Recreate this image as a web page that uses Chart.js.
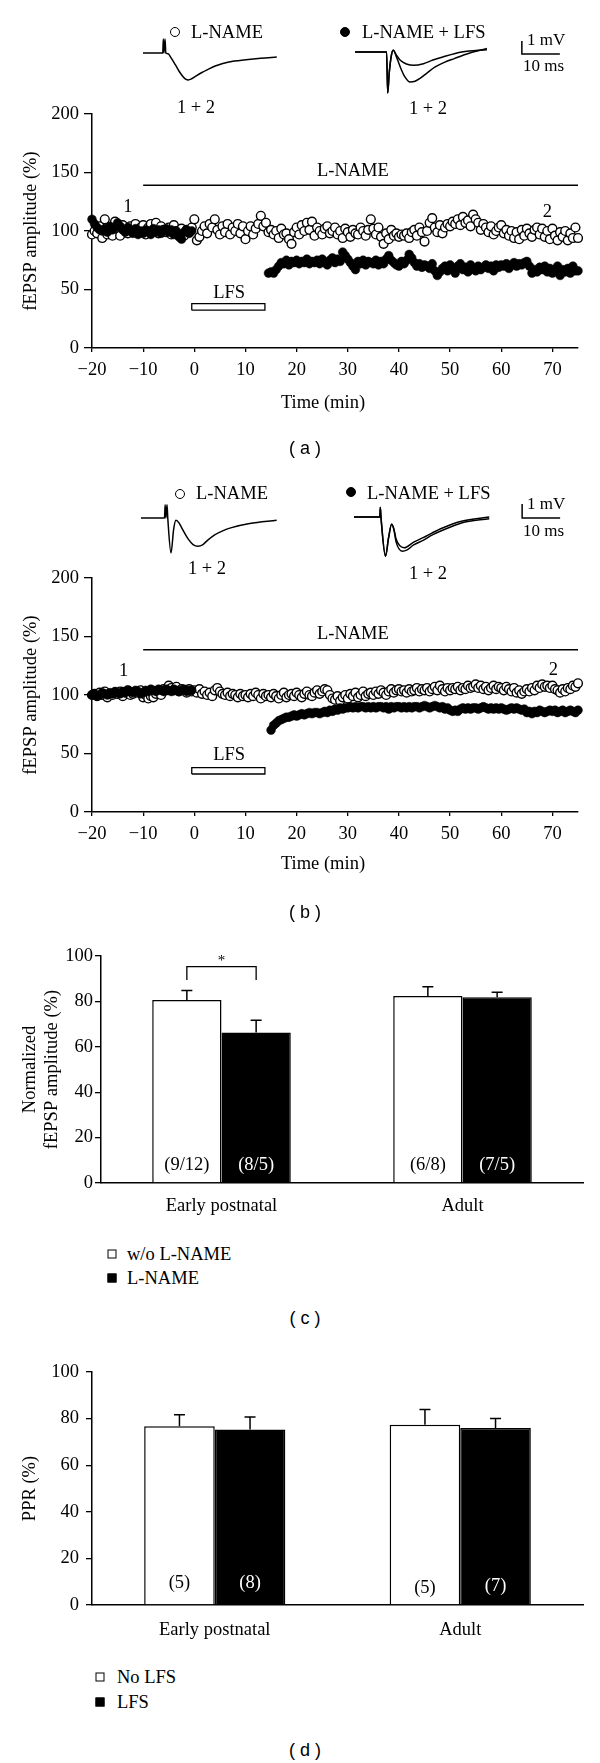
<!DOCTYPE html>
<html>
<head>
<meta charset="utf-8">
<script src="https://cdn.jsdelivr.net/npm/chart.js@4.4.1/dist/chart.umd.min.js"></script>
<style>
  html, body { margin: 0; padding: 0; background: #fff; }
  #fig { position: relative; width: 600px; height: 1763px; overflow: hidden; background: #fff;
         font-family: 'Liberation Serif', 'Times New Roman', serif; color: #000; }
  #fig canvas { position: absolute; }
  .t { position: absolute; white-space: nowrap; font-size: 18.5px; line-height: 1; transform: translateY(-50%); }
  .t.c { transform: translate(-50%, -50%); }
  .t.small { font-size: 17px; }
  .t.panel { font-family: 'Liberation Sans', Arial, sans-serif; font-size: 18px; }
  .mark { position: absolute; box-sizing: border-box; transform: translate(-50%, -50%); border: 1.3px solid #000; }
  .mark.round { border-radius: 50%; width: 10px; height: 10px; }
  .mark.square { width: 9px; height: 9px; }
</style>
</head>
<body>
<div id="fig"></div>
<script>
// Four-panel figure: two fEPSP time courses with inset traces (a, b)
// and two grouped bar charts with error bars (c, d).

// ---- Data ----

const SAMPLE_MIN = 0.5; // one sweep every 30 s
const timeTicks = [-20, -10, 0, 10, 20, 30, 40, 50, 60, 70];
const ampTicks = [0, 50, 100, 150, 200];

// (a) L-NAME alone (open) and L-NAME + LFS (filled), % of baseline
const aOpenStart = -20;
const aOpen = [
  97, 100, 98, 104, 94, 110, 97, 101, 96, 108,
  102, 96, 105, 100, 98, 104, 101, 106, 99, 103,
  105, 97, 103, 106, 100, 107, 98, 104, 101, 99,
  103, 97, 105, 100, 98, 102, 96, 101, 99, 103,
  110, 92, 95, 100, 104, 98, 106, 103, 110, 101,
  97, 104, 99, 106, 97, 103, 100, 106, 98, 104,
  93, 100, 104, 97, 102, 106, 113, 104, 107, 99,
  101, 97, 100, 94, 102, 97, 98, 93, 89, 99,
  103, 97, 105, 100, 107, 101, 108, 96, 103, 100,
  97, 102, 104, 98, 100, 103, 97, 100, 94, 102,
  99, 95, 101, 98, 97, 103, 100, 96, 101, 110,
  102, 97, 103, 95, 89, 98, 93, 101, 96, 98,
  95, 97, 96, 98, 94, 99, 101, 96, 103, 99,
  91, 100, 107, 111, 103, 99, 105, 98, 103, 106,
  104, 108, 106, 110, 105, 112, 107, 109, 104, 114,
  110, 107, 101, 106, 103, 99, 104, 97, 100, 103,
  105, 98, 101, 96, 100, 94, 99, 93, 101, 96,
  102, 98, 95, 101, 103, 97, 102, 95, 100, 93,
  102, 96, 92, 99, 95, 100, 92, 98, 94, 103,
  94,
];
const aFilledPreStart = -20;
const aFilledPre = [
  110, 106, 103, 101, 100, 102, 99, 104, 101, 103,
  107, 104, 101, 99, 103, 100, 98, 102, 97, 100,
  98, 101, 100, 97, 102, 99, 101, 98, 100, 102,
  99, 101, 97, 100, 95, 93, 99, 101, 98, 100,
];
const aFilledPostStart = 14.5;
const aFilledPost = [
  64, 65, 64, 67, 70, 73, 72, 75, 71, 74,
  73, 75, 72, 74, 73, 76, 72, 74, 73, 75,
  72, 76, 73, 71, 75, 77, 73, 76, 74, 82,
  79, 76, 73, 70, 67, 74, 72, 75, 71, 74,
  73, 72, 75, 71, 74, 72, 76, 79, 75, 73,
  71, 70, 74, 72, 75, 80, 77, 73, 70, 72,
  69, 71, 70, 68, 72, 66, 62, 65, 68, 70,
  66, 71, 68, 64, 70, 72, 67, 69, 65, 71,
  68, 66, 70, 67, 69, 71, 68, 70, 66, 71,
  69, 71, 70, 72, 68, 71, 73, 70, 72, 71,
  73, 74, 70, 64, 67, 65, 69, 67, 70, 65,
  68, 64, 66, 70, 62, 67, 65, 68, 64, 70,
  66, 66,
];

// (b) same protocol, second condition
const bOpenStart = -20;
const bOpen = [
  100, 101, 99, 102, 100, 103, 98, 101, 100, 102,
  101, 103, 99, 102, 104, 100, 101, 103, 102, 104,
  98, 100, 97, 99, 98, 101, 103, 100, 105, 104,
  108, 106, 104, 107, 103, 105, 104, 102, 105, 103,
  104, 102, 105, 101, 103, 100, 102, 99, 104, 106,
  103, 101, 100, 102, 99, 101, 100, 98, 101, 99,
  100, 98, 101, 99, 102, 100, 97, 101, 99, 100,
  98, 101, 99, 97, 100, 102, 98, 100, 101, 99,
  102, 100, 98, 101, 103, 100, 99, 102, 104, 101,
  103, 105, 104, 100, 97, 96, 99, 95, 98, 100,
  97, 101, 99, 102, 98, 100, 103, 99, 101, 102,
  100, 103, 101, 104, 102, 100, 103, 105, 102, 104,
  105, 103, 104, 102, 105, 103, 104, 106, 103, 105,
  104, 106, 103, 105, 107, 104, 108, 105, 103, 106,
  104, 106, 105, 107, 104, 106, 105, 108, 106, 107,
  109, 106, 108, 105, 107, 104, 106, 108, 105, 107,
  106, 104, 107, 105, 103, 106, 102, 104, 101, 103,
  105, 103, 106, 104, 108, 106, 109, 107, 108, 106,
  108, 105, 104, 102, 105, 103, 106, 105, 108, 107,
  110,
];
const bFilledPreStart = -20;
const bFilledPre = [
  100, 101, 99, 100, 102, 101, 100, 102, 101, 103,
  102, 101, 103, 102, 104, 103, 102, 104, 103, 101,
  102, 104, 103, 105, 104, 103, 105, 104, 103, 105,
  104, 103, 105, 104, 103, 104, 105, 103, 104, 104,
];
const bFilledPostStart = 15;
const bFilledPost = [
  70, 74, 76, 78, 79, 80, 81, 81, 82, 83,
  82, 83, 84, 83, 84, 85, 84, 85, 85, 84,
  85, 86, 85, 87, 86, 88, 87, 89, 88, 89,
  89, 90, 89, 90, 89, 90, 90, 89, 90, 89,
  90, 89, 90, 90, 89, 90, 88, 90, 89, 90,
  90, 89, 90, 89, 90, 89, 90, 90, 89, 90,
  91, 90, 89, 90, 91, 90, 89, 90, 88, 89,
  87, 86, 87, 86, 88, 89, 88, 89, 88, 89,
  89, 88, 89, 90, 89, 88, 89, 88, 89, 88,
  89, 88, 87, 88, 89, 88, 89, 88, 87, 88,
  85, 86, 84, 86, 85, 87, 86, 85, 86, 87,
  86, 87, 85, 86, 87, 85, 86, 87, 86, 85,
  87,
];

// drug application bar and LFS period (min, %)
const aDrug = { from: -10, to: 75, level: 139 };
const aLfs = { from: -0.5, to: 13.8, low: 32.3, high: 38 };
const bDrug = { from: -10, to: 75, level: 138.7 };
const bLfs = { from: -0.5, to: 13.8, low: 32.5, high: 38 };

// inset sweeps: [ms, mV]
const aTraceLeft = [
  [0, 0], [5.2, 0], [5.35, 1.08], [5.5, 0], [5.8, 1.08], [6.0, 0], [6.6, -0.05], [7.4, -0.38],
  [8.5, -0.9], [9.5, -1.4], [10.5, -1.8], [11.2, -2.0], [11.9, -2.07], [12.8, -1.98], [14, -1.75],
  [15.5, -1.5], [17, -1.28], [19, -1.0], [21, -0.8], [24, -0.62], [27.1, -0.51], [31, -0.4], [35.2, -0.31],
];
const aTraceRight1 = [
  [0, 0], [8.3, 0], [8.6, -3.15], [9.0, -1.6], [9.6, -0.2], [10.1, 0.13], [10.8, -0.3], [11.9, -1.15],
  [13, -1.85], [14.5, -2.31], [15.8, -2.25], [17, -2.05], [19, -1.6], [21.1, -1.15], [23.5, -0.8],
  [26.1, -0.51], [30, -0.1], [34.7, 0.26],
];
const aTraceRight2 = [
  [0, 0], [8.3, 0], [8.6, -3.15], [9.0, -1.6], [9.6, -0.2], [10.1, 0.13], [10.8, -0.2], [11.9, -0.64],
  [13.5, -0.92], [15.5, -1.03], [18, -0.9], [20.5, -0.62], [23.1, -0.38], [28.1, 0], [34.7, 0.18],
];
const bTraceLeft = [
  [0, 0], [6.2, 0], [6.35, 0.95], [6.55, 0], [6.85, 0.95], [7.05, 0], [7.9, -2.5], [8.6, -0.8],
  [9.2, -0.17], [10, -0.35], [10.9, -0.8], [12.4, -1.5], [13.7, -1.9], [15, -2.02], [16.3, -1.9],
  [17.5, -1.6], [19.5, -1.19], [21.5, -0.92], [23.6, -0.71], [28.6, -0.4], [35.7, -0.17],
];
const bTraceRight1 = [
  [0, 0], [6.8, 0], [6.93, 0.67], [7.1, 0], [8.3, -2.81], [9.1, -1.5], [9.9, -0.52], [10.5, -0.9],
  [11.1, -1.8], [12.7, -2.45], [14, -2.35], [15.7, -2.0], [18.2, -1.67], [20.5, -1.3], [23.3, -0.95],
  [28.3, -0.43], [35.6, -0.12],
];
const bTraceRight2 = [
  [0, 0], [6.8, 0], [6.93, 0.67], [7.1, 0], [8.3, -2.81], [9.1, -1.5], [9.9, -0.52], [10.5, -0.85],
  [11.1, -1.6], [13.2, -2.2], [15.7, -1.8], [18.2, -1.48], [20.5, -1.15], [23.3, -0.79], [28.3, -0.31],
  [35.6, 0],
];
const scaleBarMs = 10;
const scaleBarMv = 1;

// (c) normalized fEPSP amplitude, mean and SEM
const ageGroups = ['Early postnatal', 'Adult'];
const cWithout = [80.6, 82.4];
const cWithoutErr = [4.2, 4.1];
const cLName = [66.3, 81.8];
const cLNameErr = [5.4, 2.2];
const cWithoutN = ['(9/12)', '(6/8)'];
const cLNameN = ['(8/5)', '(7/5)'];

// (d) paired-pulse ratio
const dNoLfs = [76.7, 77.4];
const dNoLfsErr = [4.9, 6.5];
const dLfs = [75.3, 76.0];
const dLfsErr = [5.4, 4.0];
const dNoLfsN = ['(5)', '(5)'];
const dLfsN = ['(8)', '(7)'];

const barTicks = [0, 20, 40, 60, 80, 100];

// ---- Helpers ----

const SERIF = "'Liberation Serif', 'Times New Roman', serif";
const FONT = 18.5;
const PANEL_X = 305;
const fig = document.getElementById('fig');

function addCanvas(left, top, w, h) {
  const c = document.createElement('canvas');
  c.width = w;
  c.height = h;
  c.style.left = left + 'px';
  c.style.top = top + 'px';
  c.style.width = w + 'px';
  c.style.height = h + 'px';
  fig.appendChild(c);
  return c;
}

function addText(text, x, y, cls = '') {
  const d = document.createElement('div');
  d.className = 't ' + cls;
  d.textContent = text;
  d.style.left = x + 'px';
  d.style.top = y + 'px';
  fig.appendChild(d);
}

function addMark(kind, fill, x, y) {
  const d = document.createElement('div');
  d.className = 'mark ' + kind;
  d.style.left = x + 'px';
  d.style.top = y + 'px';
  d.style.background = fill;
  fig.appendChild(d);
}

function series(start, values) {
  return values.map((v, i) => ({ x: start + i * SAMPLE_MIN, y: v }));
}

function fmtMinus(v) {
  return v < 0 ? '\u2212' + Math.abs(v) : String(v);
}

function notesPlugin(items) {
  return {
    id: 'notes',
    afterDatasetsDraw(chart) {
      const { ctx, scales: { x, y } } = chart;
      ctx.save();
      ctx.font = `${FONT}px ${SERIF}`;
      ctx.fillStyle = '#000';
      ctx.textAlign = 'center';
      ctx.textBaseline = 'middle';
      for (const n of items) {
        ctx.fillText(n.text, x.getPixelForValue(n.x), y.getPixelForValue(n.y));
      }
      ctx.restore();
    },
  };
}

const baseOptions = {
  responsive: false,
  animation: false,
  devicePixelRatio: 1,
  events: [],
  plugins: { legend: { display: false }, tooltip: { enabled: false } },
};

// ---- Time course panels ----

function timeCourse(top, open, filledPre, filledPost, drug, lfs, notes) {
  const canvas = addCanvas(0, top, 600, 420);
  const pointStyle = { showLine: false, pointRadius: 4.4, clip: false };
  new Chart(canvas, {
    type: 'scatter',
    data: {
      datasets: [
        { ...pointStyle, data: filledPre, pointBackgroundColor: '#000', pointBorderColor: '#000', pointBorderWidth: 0.5 },
        { ...pointStyle, data: filledPost, pointBackgroundColor: '#000', pointBorderColor: '#000', pointBorderWidth: 0.5 },
        { ...pointStyle, data: open, pointBackgroundColor: '#fff', pointBorderColor: '#000', pointBorderWidth: 1.4 },
        {
          data: [{ x: drug.from, y: drug.level }, { x: drug.to, y: drug.level }],
          showLine: true, borderColor: '#000', borderWidth: 1.5, pointRadius: 0, clip: false,
        },
        {
          data: [
            { x: lfs.from, y: lfs.low }, { x: lfs.to, y: lfs.low }, { x: lfs.to, y: lfs.high },
            { x: lfs.from, y: lfs.high }, { x: lfs.from, y: lfs.low },
          ],
          showLine: true, borderColor: '#000', borderWidth: 1.3, pointRadius: 0, fill: false,
        },
      ],
    },
    options: {
      ...baseOptions,
      layout: { padding: { top: 114, right: 22, left: 0, bottom: 0 } },
      scales: {
        x: {
          type: 'linear', min: -20, max: 75,
          afterBuildTicks: (s) => { s.ticks = timeTicks.map((v) => ({ value: v })); },
          afterFit: (s) => { s.height = 72; },
          grid: { drawOnChartArea: false, drawTicks: true, tickLength: 4, color: '#000', lineWidth: 1.3 },
          border: { display: true, color: '#000', width: 1.5 },
          ticks: { color: '#000', font: { family: SERIF, size: FONT }, padding: 6.9, maxRotation: 0, callback: fmtMinus },
        },
        y: {
          type: 'linear', min: 0, max: 200,
          afterBuildTicks: (s) => { s.ticks = ampTicks.map((v) => ({ value: v })); },
          afterFit: (s) => { s.width = 92; },
          grid: { drawOnChartArea: false, drawTicks: true, tickLength: 8, color: '#000', lineWidth: 1.3 },
          border: { display: true, color: '#000', width: 1.5 },
          ticks: { color: '#000', font: { family: SERIF, size: FONT }, padding: 5 },
          title: {
            display: true, text: 'fEPSP amplitude (%)', color: '#000',
            font: { family: SERIF, size: FONT }, padding: { top: 19.9, bottom: 0 },
          },
        },
      },
    },
    plugins: [notesPlugin(notes)],
  });
}

function shift(trace, dt, dv) {
  return trace.map(([t, v]) => ({ x: t + dt, y: v + dv }));
}

function inset(left, top, w, h, xMin, pxPerMs, yMax, pxPerMv, traces) {
  const canvas = addCanvas(left, top, w, h);
  new Chart(canvas, {
    type: 'scatter',
    data: {
      datasets: traces.map((pts) => ({
        data: pts, showLine: true, borderColor: '#000', borderWidth: 1.5,
        pointRadius: 0, cubicInterpolationMode: 'monotone', clip: false,
      })),
    },
    options: {
      ...baseOptions,
      layout: { padding: 0 },
      scales: {
        x: { type: 'linear', display: false, min: xMin, max: xMin + w / pxPerMs },
        y: { type: 'linear', display: false, min: yMax - h / pxPerMv, max: yMax },
      },
    },
  });
}

function scaleBar(x0, v0) {
  return [
    { x: x0, y: v0 + scaleBarMv }, { x: x0, y: v0 }, { x: x0 + scaleBarMs, y: v0 },
  ];
}

// (a)
timeCourse(0, series(aOpenStart, aOpen), series(aFilledPreStart, aFilledPre),
  series(aFilledPostStart, aFilledPost), aDrug, aLfs, [
    { text: 'L-NAME', x: 31, y: 151 }, { text: 'LFS', x: 6.8, y: 47 },
    { text: '1', x: -13, y: 120 }, { text: '2', x: 69, y: 116 },
  ]);
inset(130, 20, 460, 100, -3.42, 3.8, 2.54, 13, [
  shift(aTraceLeft, 0, 0), shift(aTraceRight1, 55.8, 0.08), shift(aTraceRight2, 55.8, 0.08),
  scaleBar(99.7, -0.08),
]);
addMark('round', '#fff', 175, 32);
addText('L-NAME', 191, 32);
addMark('round', '#000', 345, 32);
addText('L-NAME + LFS', 362, 32);
addText('1 mV', 527, 39, 'small');
addText('10 ms', 523, 65, 'small');
addText('1 + 2', 196, 107, 'c');
addText('1 + 2', 428, 108, 'c');
addText('Time (min)', 323, 402, 'c');
addText('( a )', PANEL_X, 448, 'c panel');

// (b)
timeCourse(464, series(bOpenStart, bOpen), series(bFilledPreStart, bFilledPre),
  series(bFilledPostStart, bFilledPost), bDrug, bLfs, [
    { text: 'L-NAME', x: 31, y: 152 }, { text: 'LFS', x: 6.8, y: 49 },
    { text: '1', x: -13.8, y: 120 }, { text: '2', x: 70.2, y: 121.5 },
  ]);
inset(130, 480, 460, 100, -2.89, 3.8, 2.71, 14, [
  shift(bTraceLeft, 0, 0), shift(bTraceRight1, 56.05, 0.07), shift(bTraceRight2, 56.05, 0.07),
  scaleBar(100.3, 0),
]);
addMark('round', '#fff', 180, 494);
addText('L-NAME', 196, 493);
addMark('round', '#000', 351, 492);
addText('L-NAME + LFS', 367, 493);
addText('1 mV', 527, 503, 'small');
addText('10 ms', 523, 530, 'small');
addText('1 + 2', 207, 568, 'c');
addText('1 + 2', 428, 573, 'c');
addText('Time (min)', 323, 863, 'c');
addText('( b )', PANEL_X, 912, 'c panel');

// ---- Bar panels ----

function barExtras(errors, counts, countY, bracket) {
  return {
    id: 'barExtras',
    afterDatasetsDraw(chart) {
      const { ctx } = chart;
      const yScale = chart.scales.y;
      ctx.save();
      ctx.strokeStyle = '#000';
      ctx.lineWidth = 1.5;
      chart.data.datasets.forEach((ds, i) => {
        chart.getDatasetMeta(i).data.forEach((bar, j) => {
          const top = yScale.getPixelForValue(ds.data[j] + errors[i][j]);
          ctx.beginPath();
          ctx.moveTo(bar.x, bar.y);
          ctx.lineTo(bar.x, top);
          ctx.moveTo(bar.x - 5.5, top);
          ctx.lineTo(bar.x + 5.5, top);
          ctx.stroke();
        });
      });
      ctx.font = `${FONT}px ${SERIF}`;
      ctx.textAlign = 'center';
      ctx.textBaseline = 'middle';
      chart.data.datasets.forEach((ds, i) => {
        ctx.fillStyle = i === 0 ? '#000' : '#fff';
        chart.getDatasetMeta(i).data.forEach((bar, j) => {
          ctx.fillText(counts[i][j], bar.x, yScale.getPixelForValue(countY[i][j]));
        });
      });
      if (bracket) {
        const a = chart.getDatasetMeta(bracket.from[0]).data[bracket.from[1]];
        const b = chart.getDatasetMeta(bracket.to[0]).data[bracket.to[1]];
        const yTop = yScale.getPixelForValue(bracket.top);
        const yLeg = yScale.getPixelForValue(bracket.leg);
        ctx.lineWidth = 1.3;
        ctx.beginPath();
        ctx.moveTo(a.x, yLeg);
        ctx.lineTo(a.x, yTop);
        ctx.lineTo(b.x, yTop);
        ctx.lineTo(b.x, yLeg);
        ctx.stroke();
        ctx.fillStyle = '#000';
        ctx.font = `15px ${SERIF}`;
        ctx.fillText(bracket.mark, (a.x + b.x) / 2, yScale.getPixelForValue(bracket.markAt));
      }
      ctx.restore();
    },
  };
}

function barPanel(top, h, padTop, yWidth, xHeight, tickPad, labelPad, title, sets, errors, counts, countY, bracket) {
  const canvas = addCanvas(0, top, 600, h);
  new Chart(canvas, {
    type: 'bar',
    data: {
      labels: ageGroups,
      datasets: [
        { label: sets[0].label, data: sets[0].data, backgroundColor: '#fff', borderColor: '#000', borderWidth: 1.5 },
        { label: sets[1].label, data: sets[1].data, backgroundColor: '#000', borderColor: '#000', borderWidth: 1.5 },
      ],
    },
    options: {
      ...baseOptions,
      categoryPercentage: 0.575,
      barPercentage: 1,
      layout: { padding: { top: padTop, right: 17, left: 0, bottom: 0 } },
      scales: {
        x: {
          afterFit: (s) => { s.height = xHeight; },
          grid: { display: false },
          border: { display: true, color: '#000', width: 1.5 },
          ticks: { color: '#000', font: { family: SERIF, size: FONT }, padding: labelPad, maxRotation: 0 },
        },
        y: {
          type: 'linear', min: 0, max: 100,
          afterBuildTicks: (s) => { s.ticks = barTicks.map((v) => ({ value: v })); },
          afterFit: (s) => { s.width = yWidth; },
          grid: { drawOnChartArea: false, drawTicks: true, tickLength: 6, color: '#000', lineWidth: 1.3 },
          border: { display: true, color: '#000', width: 1.5 },
          ticks: { color: '#000', font: { family: SERIF, size: FONT }, padding: tickPad },
          title: {
            display: true, text: title, color: '#000',
            font: { family: SERIF, size: FONT, lineHeight: 1.15 }, padding: { top: 20, bottom: 0 },
          },
        },
      },
    },
    plugins: [barExtras(errors, counts, countY, bracket)],
  });
}

// (c)
barPanel(930, 285, 26, 101, 32, 2, 3.9, ['Normalized', 'fEPSP amplitude (%)'],
  [{ label: 'w/o L-NAME', data: cWithout }, { label: 'L-NAME', data: cLName }],
  [cWithoutErr, cLNameErr], [cWithoutN, cLNameN], [[8, 8], [8, 8]],
  { from: [0, 0], to: [1, 0], top: 95.3, leg: 89.4, mark: '*', markAt: 97.8 });
addMark('square', '#fff', 112, 1254);
addText('w/o L-NAME', 127, 1254);
addMark('square', '#000', 112, 1278);
addText('L-NAME', 127, 1278);
addText('( c )', PANEL_X, 1318, 'c panel');

// (d)
barPanel(1350, 290, 22, 92, 35, 7, 5.9, 'PPR (%)',
  [{ label: 'No LFS', data: dNoLfs }, { label: 'LFS', data: dLfs }],
  [dNoLfsErr, dLfsErr], [dNoLfsN, dLfsN], [[9.3, 7.1], [9.3, 7.9]], null);
addMark('square', '#fff', 100, 1677);
addText('No LFS', 117, 1677);
addMark('square', '#000', 100, 1702);
addText('LFS', 117, 1702);
addText('( d )', PANEL_X, 1750, 'c panel');
</script>
</body>
</html>
